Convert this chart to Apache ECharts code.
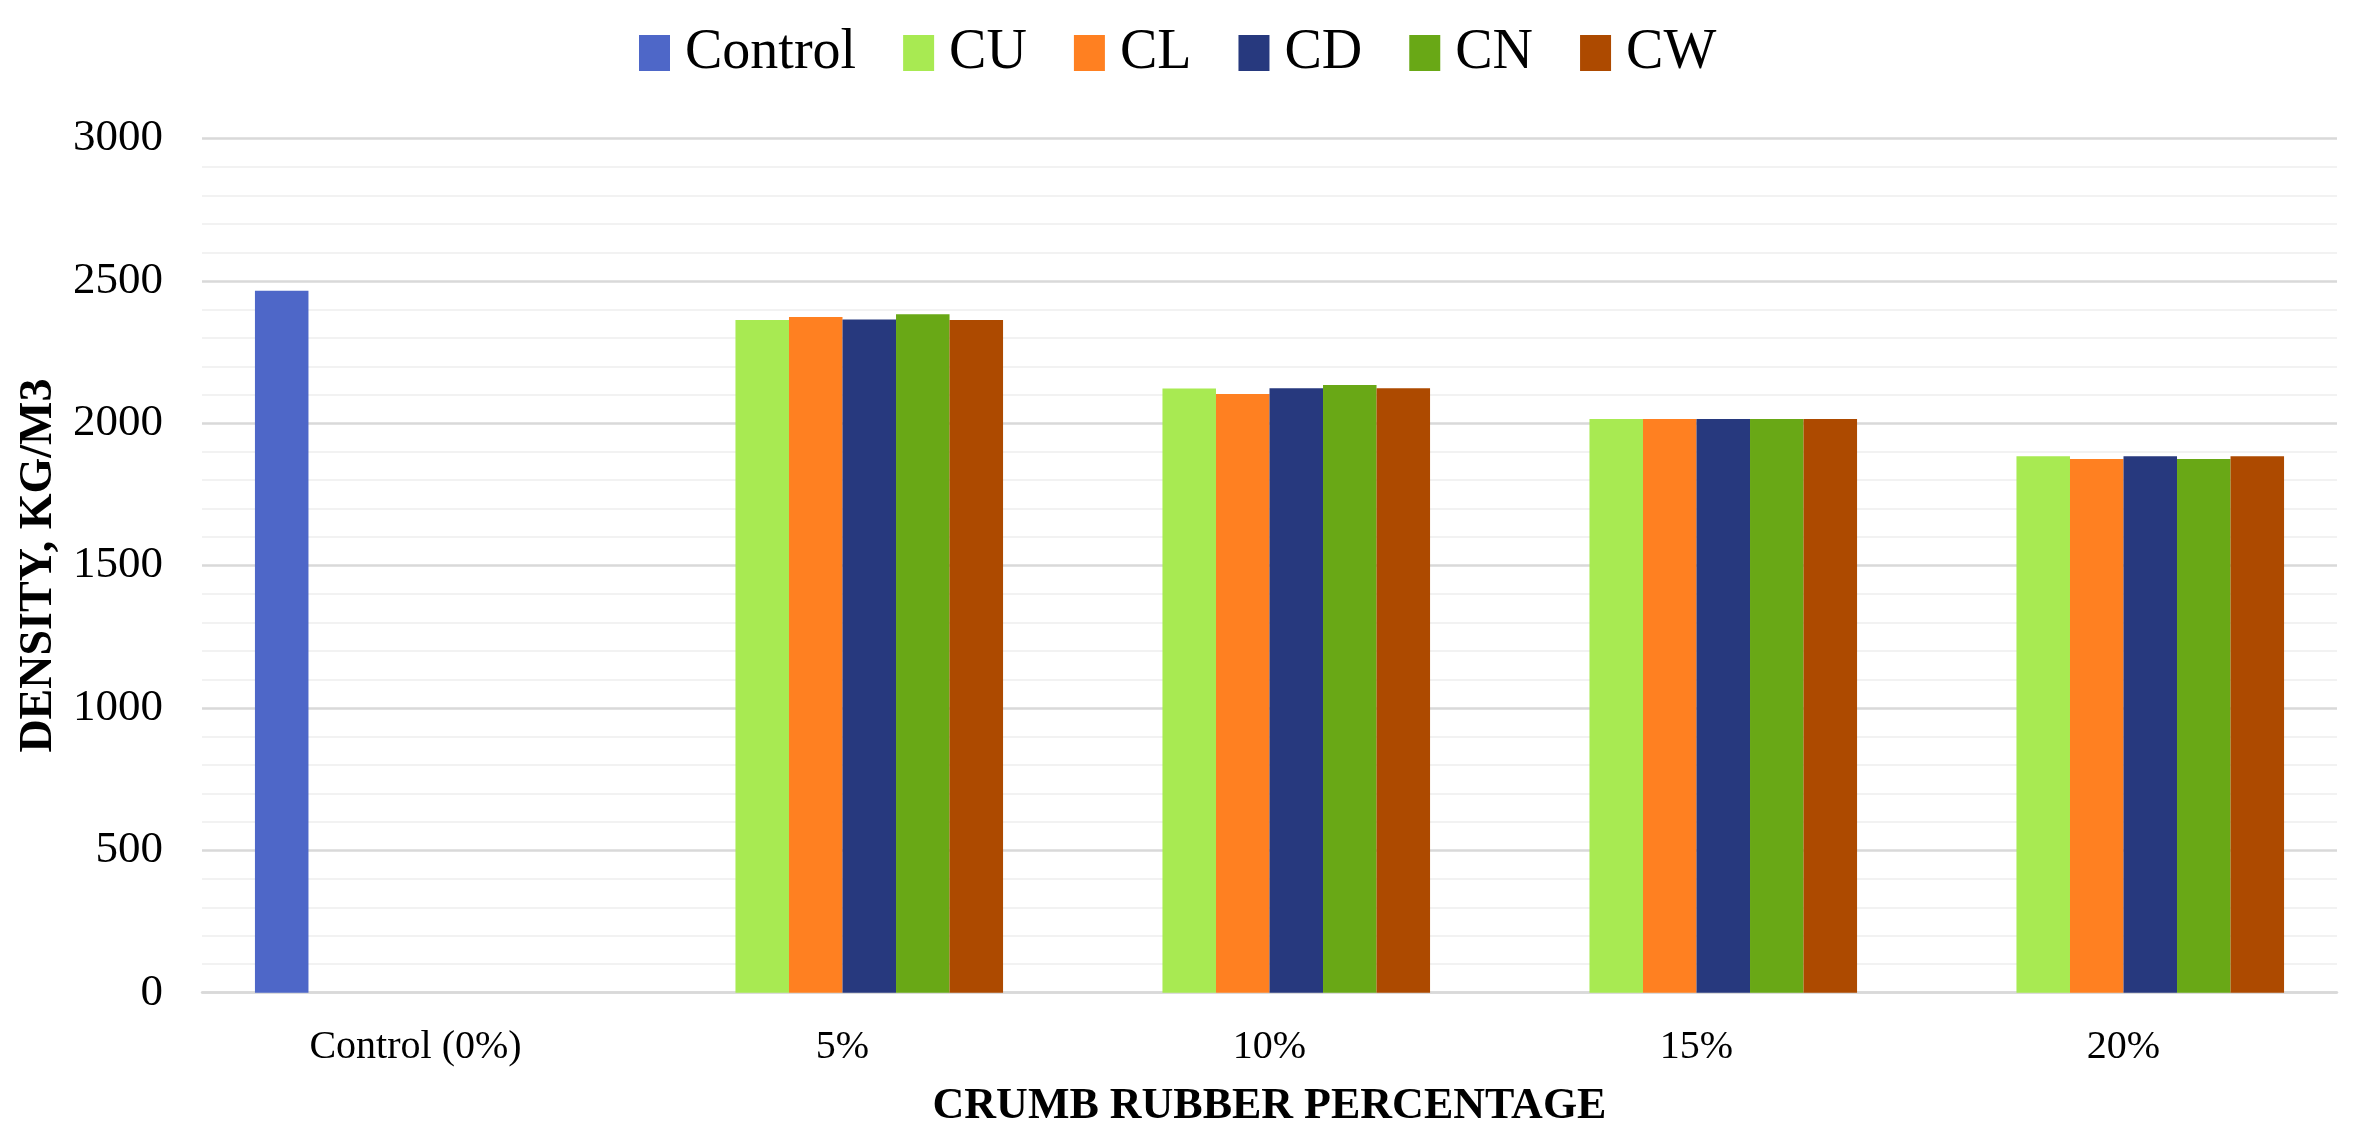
<!DOCTYPE html>
<html>
<head>
<meta charset="utf-8">
<script src="https://cdn.jsdelivr.net/npm/echarts@6/dist/echarts.min.js"></script>
<style>
html,body{margin:0;padding:0;background:#fff;}
#chart{width:2360px;height:1145px;}
</style>
</head>
<body>
<div id="chart"></div>
<script>
const categories = ['Control (0%)', '5%', '10%', '15%', '20%'];
const seriesNames = ['Control', 'CU', 'CL', 'CD', 'CN', 'CW'];
const controlValues = [2465, null, null, null, null];
const cuValues = [null, 2363, 2122, 2015, 1884];
const clValues = [null, 2373, 2103, 2015, 1874];
const cdValues = [null, 2364, 2123, 2015, 1884];
const cnValues = [null, 2383, 2134, 2015, 1874];
const cwValues = [null, 2363, 2123, 2015, 1884];
const colors = ['#4E67C8', '#A8EA52', '#FF8021', '#27397E', '#69A816', '#AD4A00'];
const xTitle = 'CRUMB RUBBER PERCENTAGE';
const yTitle = 'DENSITY, KG/M3';

const allValues = [controlValues, cuValues, clValues, cdValues, cnValues, cwValues];
const FONT = "'Liberation Serif', 'Times New Roman', serif";

const chart = echarts.init(document.getElementById('chart'));
chart.setOption({
  animation: false,
  backgroundColor: '#ffffff',
  color: colors,
  textStyle: { fontFamily: FONT },
  legend: {
    top: 20,
    left: 634,
    icon: 'rect',
    itemWidth: 31,
    itemHeight: 36,
    itemGap: 47,
    textStyle: { fontFamily: FONT, fontSize: 56, color: '#000', lineHeight: 36, padding: [0, 0, 0, 10] },
    data: seriesNames
  },
  grid: { left: 202, right: 23, top: 138.5, bottom: 152.3, containLabel: false },
  xAxis: {
    type: 'category',
    data: categories,
    axisTick: { show: false },
    axisLine: { show: true, lineStyle: { color: '#D9D9D9', width: 2.5 } },
    axisLabel: { fontFamily: FONT, fontSize: 40, color: '#000', margin: 35 },
    name: xTitle,
    nameLocation: 'middle',
    nameGap: 92,
    nameTextStyle: { fontFamily: FONT, fontSize: 44, fontWeight: 'bold', color: '#000' }
  },
  yAxis: {
    type: 'value',
    min: 0,
    max: 3000,
    interval: 500,
    axisLine: { show: false },
    axisTick: { show: false },
    axisLabel: { fontFamily: FONT, fontSize: 45, color: '#000', margin: 39, formatter: v => String(v) },
    splitLine: { show: true, lineStyle: { color: '#D9D9D9', width: 2.5 } },
    minorTick: { show: false, splitNumber: 5 },
    minorSplitLine: { show: true, lineStyle: { color: '#F2F2F2', width: 2 } },
    name: yTitle,
    nameLocation: 'middle',
    nameGap: 131,
    nameTextStyle: { fontFamily: FONT, fontSize: 46, fontWeight: 'bold', color: '#000' }
  },
  series: seriesNames.map((n, i) => ({
    name: n,
    type: 'bar',
    data: allValues[i],
    barGap: '0%',
    barCategoryGap: '24.8%',
    itemStyle: { color: colors[i] }
  }))
});
</script>
</body>
</html>
